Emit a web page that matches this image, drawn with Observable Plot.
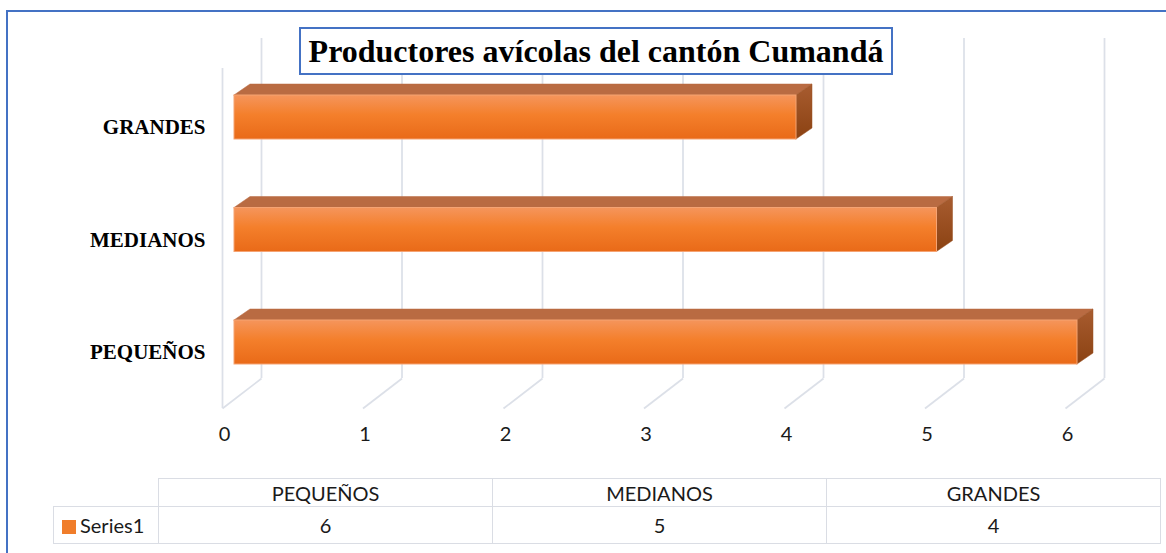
<!DOCTYPE html>
<html>
<head>
<meta charset="utf-8">
<script src="https://cdn.jsdelivr.net/npm/d3@7"></script>
<script src="https://cdn.jsdelivr.net/npm/@observablehq/plot@0.6"></script>
<style>
  body { margin: 0; background: #fff; }
  #wrap { position: relative; width: 1166px; height: 553px; overflow: hidden; background: #fff; }
  #frame { position: absolute; left: 6px; top: 10px; width: 1300px; height: 700px; border: 2.5px solid #4472C4; box-sizing: border-box; }
  #chart { position: absolute; left: 0; top: 0; }
  #title { position: absolute; left: 299px; top: 27px; width: 594px; height: 48px; box-sizing: border-box;
           border: 2.5px solid #4472C4; background: #fff; font: bold 32px "Liberation Serif", "Times New Roman", serif;
           color: #000; text-align: center; line-height: 45px; white-space: nowrap; }
  #tbl { position: absolute; left: 53px; top: 478px; border-collapse: collapse; table-layout: fixed;
         font: 20px Lato, sans-serif; color: #1a1a1a; }
  #tbl td { border: 1.5px solid #DADDE4; text-align: center; padding: 0; }
  #tbl td.empty { border-top: none; border-left: none; }
  #tbl td.leg { text-align: left; padding-left: 8px; white-space: nowrap; }
  .sw { display: inline-block; width: 14px; height: 14px; background: #F07D2A; margin-right: 4px; vertical-align: -1px; }
</style>
</head>
<body>
<div id="wrap">
  <div id="frame"></div>
  <div id="chart"></div>
  <div id="title"></div>
  <table id="tbl"></table>
</div>
<script>
// ---- data ----
const title = "Productores avícolas del cantón Cumandá";
const categories = ["PEQUEÑOS", "MEDIANOS", "GRANDES"];
const values = [6, 5, 4];
const seriesName = "Series1";
const xTicks = [0, 1, 2, 3, 4, 5, 6];

// ---- layout constants ----
const W = 1166, H = 470;
const X_DOMAIN = [0, 6], X_RANGE = [234, 1077];
const Y_DOMAIN = [0, 2], Y_RANGE = [342, 117];
const xS = d3.scaleLinear(X_DOMAIN, X_RANGE);
const yS = d3.scaleLinear(Y_DOMAIN, Y_RANGE);
const ux = xS(1) - xS(0);   // px per x unit
const uy = yS(0) - yS(1);   // px per y unit
const BAR_HALF = 22 / uy, BAR_DX = 16 / ux, BAR_DY = 11 / uy;
const GRID = "#DCE0E8";

const bars = categories.map((c, i) => ({cat: c, i, v: values[i]}));
const topRows = bars.flatMap(b => [
  {cat: b.cat, y: b.i + BAR_HALF, x1: 0, x2: b.v},
  {cat: b.cat, y: b.i + BAR_HALF + BAR_DY, x1: BAR_DX, x2: b.v + BAR_DX}
]);
const sideRows = bars.flatMap(b => [
  {cat: b.cat, x: b.v, y1: b.i - BAR_HALF, y2: b.i + BAR_HALF},
  {cat: b.cat, x: b.v + BAR_DX, y1: b.i - BAR_HALF + BAR_DY, y2: b.i + BAR_HALF + BAR_DY}
]);

const plot = Plot.plot({
  width: W,
  height: H,
  marginTop: 38,
  marginBottom: H - 378,
  marginLeft: 0,
  marginRight: 0,
  style: {background: "transparent", overflow: "visible"},
  x: {domain: X_DOMAIN, range: X_RANGE, axis: null},
  y: {type: "linear", domain: Y_DOMAIN, range: Y_RANGE, axis: null},
  marks: [
    // back wall gridlines
    Plot.ruleX(xTicks, {x: d => d, dx: 27, stroke: GRID, strokeWidth: 1.75}),
    // floor diagonals
    Plot.link(xTicks, {x1: d => d, x2: d => d - 39 / ux, y1: () => yS.invert(378), y2: () => yS.invert(408),
                       dx: 27, stroke: GRID, strokeWidth: 1.75}),
    // left wall front edge
    Plot.ruleX([0], {x: d => d, dx: -12, y1: () => yS.invert(68), y2: () => yS.invert(408), stroke: GRID, strokeWidth: 1.75}),
    // bar top faces
    Plot.area(topRows, {x1: "x1", x2: "x2", y1: "y", z: "cat", fill: "#B96B42", stroke: "#B96B42", strokeWidth: 0.5}),
    // bar side faces
    Plot.area(sideRows, {x1: "x", y1: "y1", y2: "y2", z: "cat", fill: "url(#gSide)", stroke: "#9A5022", strokeWidth: 0.5}),
    // bar front faces
    Plot.rect(bars, {x1: () => 0, x2: "v", y1: d => d.i - BAR_HALF, y2: d => d.i + BAR_HALF,
                     fill: "url(#gFront)", stroke: "#F5A373", strokeWidth: 1}),
    // category labels
    Plot.text(bars, {x: () => 0, y: "i", text: "cat", textAnchor: "end", dx: -29, dy: 10,
                     fontFamily: "Liberation Serif, Times New Roman, serif", fontWeight: "bold", fontSize: 21, fill: "#000"}),
    // x tick labels
    Plot.text(xTicks, {x: d => d, text: d => String(d), frameAnchor: "bottom", dx: -10, dy: 62,
                       fontFamily: "Lato, sans-serif", fontSize: 20, fill: "#1a1a1a"})
  ]
});

const defs = d3.select(plot).insert("defs", ":first-child");
const gF = defs.append("linearGradient").attr("id", "gFront").attr("x1", 0).attr("y1", 0).attr("x2", 0).attr("y2", 1);
gF.append("stop").attr("offset", "0%").attr("stop-color", "#F5955C");
gF.append("stop").attr("offset", "45%").attr("stop-color", "#F47F2B");
gF.append("stop").attr("offset", "100%").attr("stop-color", "#E96A18");
const gS = defs.append("linearGradient").attr("id", "gSide").attr("x1", 0).attr("y1", 0).attr("x2", 0).attr("y2", 1);
gS.append("stop").attr("offset", "0%").attr("stop-color", "#A85C30");
gS.append("stop").attr("offset", "100%").attr("stop-color", "#8B4212");

document.getElementById("chart").appendChild(plot);
document.getElementById("title").textContent = title;

// data table
const tbl = d3.select("#tbl");
tbl.append("colgroup").selectAll("col").data([105, 334, 334, 334]).join("col").style("width", d => d + "px");
const hr = tbl.append("tr").style("height", "28px");
hr.append("td").attr("class", "empty");
hr.selectAll("td.h").data(categories).join("td").attr("class", "h").text(d => d);
const dr = tbl.append("tr").style("height", "37px");
const leg = dr.append("td").attr("class", "leg");
leg.append("span").attr("class", "sw");
leg.append("span").text(seriesName);
dr.selectAll("td.v").data(values).join("td").attr("class", "v").text(d => d);
</script>
</body>
</html>
